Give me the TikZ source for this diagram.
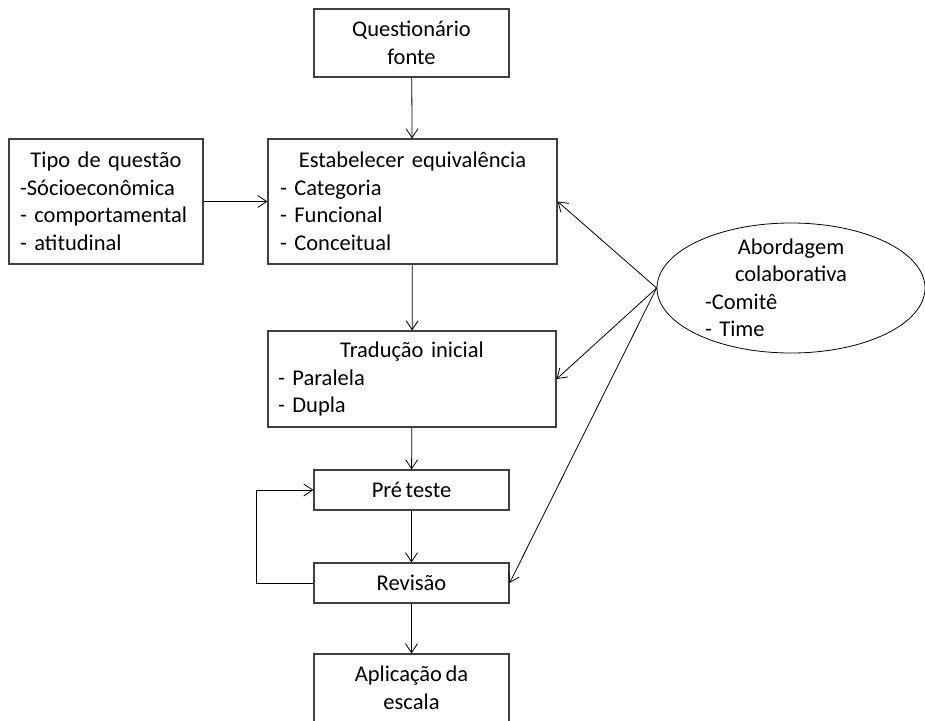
\documentclass[tikz,border=0pt]{standalone}
\usepackage{fontspec}
\setmainfont[WordSpace=0.7]{Carlito}
\usetikzlibrary{shapes.geometric,arrows.meta}
\newcommand{\boxfont}{\fontsize{22.5}{27.5}\selectfont}
\newcommand{\headline}[1]{\makebox[\linewidth]{#1}}
\tikzset{
	box/.style={draw=black!75, line width=1.2pt, rectangle, inner sep=0pt, font=\boxfont},
	listbox/.style={box, align=left},
	flow/.style={-{Straight Barb[length=9pt,width=12pt]}, line width=0.8pt},
}
\begin{document}
\begin{tikzpicture}[x=1pt, y=-1pt]
	\useasboundingbox (0,0) rectangle (925,720);
	% main column
	\node[box, align=center, minimum width=195, minimum height=68] (quest) at (411.5,43) {Questionário\\fonte};
	\node[listbox, text width=265, minimum width=289, minimum height=125] (estab) at (412.5,201.5)
		{\headline{Estabelecer equivalência}\\- Categoria\\- Funcional\\- Conceitual};
	\node[listbox, text width=268, minimum width=288, minimum height=96] (trad) at (412,379)
		{\headline{Tradução inicial}\\- Paralela\\- Dupla};
	\node[box, minimum width=195, minimum height=40] (pre) at (411.5,490) {Pré teste};
	\node[box, minimum width=195, minimum height=40] (rev) at (411.5,583) {Revisão};
	\node[box, align=center, minimum width=195, minimum height=68] (aplic) at (411.5,688) {Aplicação da\\escala};
	% side inputs
	\node[listbox, text width=172, minimum width=194, minimum height=125] (tipo) at (106,201.5)
		{\headline{Tipo de questão}\\-Sócioeconômica\\- comportamental\\- atitudinal};
	\node[draw, ellipse, line width=0.8pt, minimum width=268, minimum height=130] (abord) at (791,288) {};
	\node[font=\boxfont, align=left, text width=172, inner sep=0pt] (abordtxt) at (abord.center)
		{\headline{Abordagem}\\\headline{colaborativa}\\-Comitê\\- Time};
	% connectors
	\draw[flow] (quest) -- (estab);
	\draw[flow] (estab) -- (trad);
	\draw[flow] (trad) -- (pre);
	\draw[flow] (pre) -- (rev);
	\draw[flow] (rev) -- (aplic);
	\draw[flow] (tipo) -- (estab);
	\draw[flow] (rev.west) -- ++(-57,0) |- (pre.west);
	\draw[flow] (abord.west) -- (estab.east);
	\draw[flow] (abord.west) -- (trad.east);
	\draw[flow] (abord.west) -- (rev.east);
\end{tikzpicture}
\end{document}
